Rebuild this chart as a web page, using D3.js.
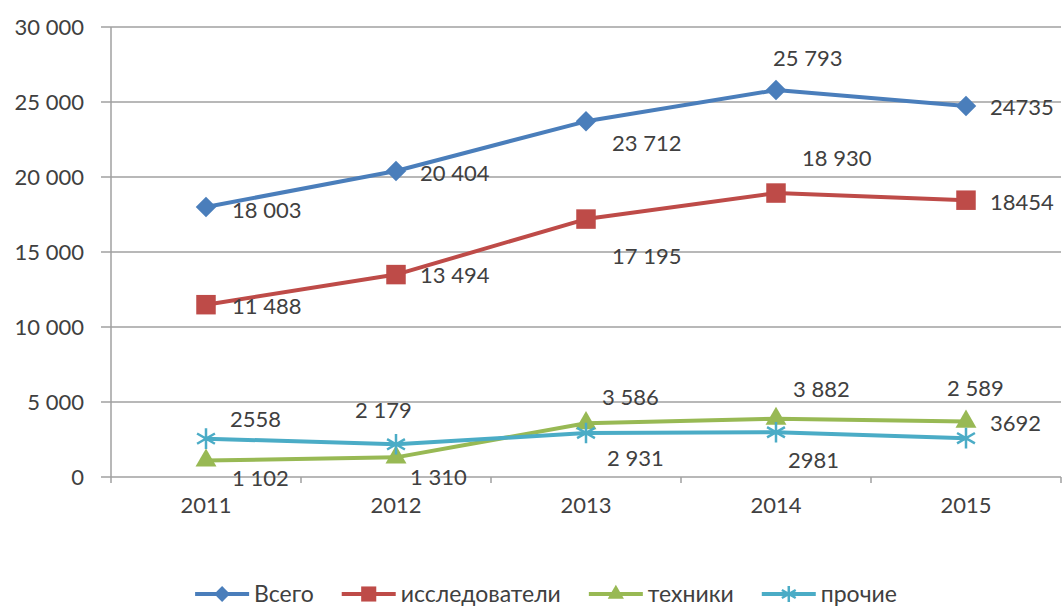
<!DOCTYPE html>
<html lang="ru">
<head>
  <meta charset="UTF-8">
  <title>Численность персонала</title>
  <script src="https://d3js.org/d3.v7.min.js"></script>
  <style>
    body { margin: 0; background: #fff; }
    text { font-family: Lato, "Open Sans", sans-serif; fill: #404040; }
    .grid-line { stroke: #a0a0a0; stroke-width: 1.5; }
  </style>
</head>
<body>
<script>
  // Data
  const years = ['2011', '2012', '2013', '2014', '2015'];
  const seriesNames = ['Всего', 'исследователи', 'техники', 'прочие'];
  const vsego = [18003, 20404, 23712, 25793, 24735];
  const issled = [11488, 13494, 17195, 18930, 18454];
  const tehniki = [1102, 1310, 3586, 3882, 3692];
  const prochie = [2558, 2179, 2931, 2981, 2589];
  const vsegoText = ['18 003', '20 404', '23 712', '25 793', '24735'];
  const issledText = ['11 488', '13 494', '17 195', '18 930', '18454'];
  const tehnikiText = ['1 102', '1 310', '3 586', '3 882', '3692'];
  const prochieText = ['2558', '2 179', '2 931', '2981', '2 589'];
  const yTicks = [0, 5000, 10000, 15000, 20000, 25000, 30000];
  const yTickText = ['0', '5 000', '10 000', '15 000', '20 000', '25 000', '30 000'];

  // Label offsets relative to each point (as placed in the original)
  const labelOffsets = [
    [[26, 3], [24, 2], [26, 22], [-3, -32], [24, 1]],
    [[26, 2], [24, 1], [26, 37], [26, -35], [24, 2]],
    [[26, 18], [14, 20], [16, -26], [17, -29], [24, 2]],
    [[24, -19], [-41, -34], [21, 25], [12, 28], [-19, -50]]
  ];

  const colors = ['#4a7ebb', '#be4b48', '#98b954', '#4bacc6'];
  const symbols = ['diamond', 'square', 'triangle', 'star'];
  const values = [vsego, issled, tehniki, prochie];
  const texts = [vsegoText, issledText, tehnikiText, prochieText];

  const width = 1064, height = 608;
  const margin = {top: 27, right: 3, bottom: 131, left: 111};

  const svg = d3.select('body').append('svg')
    .attr('width', width)
    .attr('height', height);

  const x = d3.scaleBand()
    .domain(years)
    .range([margin.left, width - margin.right]);

  const y = d3.scaleLinear()
    .domain([0, 30000])
    .range([height - margin.bottom, margin.top]);

  // grid lines + y labels
  yTicks.forEach((t, i) => {
    svg.append('line')
      .attr('class', 'grid-line')
      .attr('x1', margin.left - 10)
      .attr('x2', width - margin.right)
      .attr('y1', y(t))
      .attr('y2', y(t));
    svg.append('text')
      .attr('x', 84)
      .attr('y', y(t))
      .attr('dy', '0.35em')
      .attr('text-anchor', 'end')
      .style('font-size', '22px')
      .text(yTickText[i]);
  });

  // y axis line
  svg.append('line')
    .attr('class', 'grid-line')
    .attr('x1', margin.left).attr('x2', margin.left)
    .attr('y1', y(30000)).attr('y2', y(0) + 6);

  // x ticks at category boundaries
  years.forEach(yr => {
    const bx = x(yr) + x.bandwidth();
    svg.append('line')
      .attr('class', 'grid-line')
      .attr('x1', bx).attr('x2', bx)
      .attr('y1', y(0)).attr('y2', y(0) + 6);
    svg.append('text')
      .attr('x', x(yr) + x.bandwidth() / 2)
      .attr('y', y(0) + 36)
      .attr('text-anchor', 'middle')
      .style('font-size', '22px')
      .text(yr);
  });

  const cx = yr => x(yr) + x.bandwidth() / 2;

  function drawMarker(g, kind, color, px, py, k) {
    k = k || 1;
    if (kind === 'diamond') {
      g.append('path')
        .attr('d', d3.symbol(d3.symbolSquare, 210 * k)())
        .attr('transform', `translate(${px},${py}) rotate(45)`)
        .attr('fill', color);
    } else if (kind === 'square') {
      g.append('path')
        .attr('d', d3.symbol(d3.symbolSquare, 380 * k)())
        .attr('transform', `translate(${px},${py})`)
        .attr('fill', color);
    } else if (kind === 'triangle') {
      g.append('path')
        .attr('d', d3.symbol(d3.symbolTriangle, 190 * k)())
        .attr('transform', `translate(${px},${py})`)
        .attr('fill', color);
    } else {
      g.append('path')
        .attr('d', d3.symbol(d3.symbolAsterisk, 300 * k)())
        .attr('transform', `translate(${px},${py})`)
        .attr('fill', 'none')
        .attr('stroke', color)
        .attr('stroke-width', 2.5);
    }
  }

  const line = d3.line()
    .x((d, i) => cx(years[i]))
    .y(d => y(d));

  // draw lines
  values.forEach((vals, s) => {
    const g = svg.append('g');
    g.append('path')
      .datum(vals)
      .attr('d', line)
      .attr('fill', 'none')
      .attr('stroke', colors[s])
      .attr('stroke-width', 4)
      .attr('stroke-linejoin', 'round');
    vals.forEach((v, i) => drawMarker(g, symbols[s], colors[s], cx(years[i]), y(v)));
  });

  // data labels
  values.forEach((vals, s) => {
    vals.forEach((v, i) => {
      const off = labelOffsets[s][i];
      svg.append('text')
        .attr('x', cx(years[i]) + off[0])
        .attr('y', y(v) + off[1])
        .attr('dy', '0.35em')
        .style('font-size', '22px')
        .text(texts[s][i]);
    });
  });

  // legend
  const legend = svg.append('g');
  let lx = 0;
  const ly = 594;
  seriesNames.forEach((name, s) => {
    const item = legend.append('g').attr('transform', `translate(${lx},0)`);
    item.append('line')
      .attr('x1', 0).attr('x2', 54)
      .attr('y1', ly).attr('y2', ly)
      .attr('stroke', colors[s])
      .attr('stroke-width', 4);
    drawMarker(item, symbols[s], colors[s], 27, ly, 0.6);
    const t = item.append('text')
      .attr('x', 59)
      .attr('y', ly)
      .attr('dy', '0.35em')
      .style('font-size', '23px')
      .text(name);
    lx += 59 + t.node().getComputedTextLength() + 28;
  });
  const legendWidth = lx - 28;
  legend.attr('transform', `translate(${546 - legendWidth / 2},0)`);
</script>
</body>
</html>
